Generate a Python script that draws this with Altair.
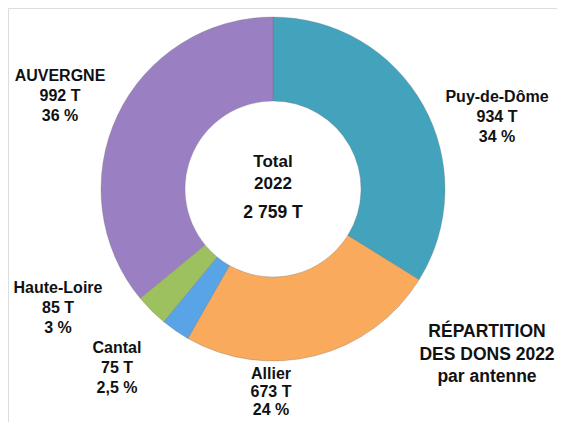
import altair as alt
import pandas as pd

# ---- data ----
antennes = ["Puy-de-Dôme", "Allier", "Cantal", "Haute-Loire", "AUVERGNE"]
tonnes = [934, 673, 75, 85, 992]
pourcent = ["34 %", "24 %", "2,5 %", "3 %", "36 %"]
couleurs = ["#43A3BC", "#F9AA5C", "#58A4E6", "#9CC15E", "#9A80C2"]
total_annee = "2022"
total_txt = "2 759 T"
titre = ["RÉPARTITION", "DES DONS 2022", "par antenne"]

df = pd.DataFrame({"antenne": antennes, "tonnes": tonnes, "ordre": list(range(len(antennes)))})

FONT = "Liberation Sans"
CX, CY = 265, 181

donut = alt.Chart(df).mark_arc(
    radius=172, radius2=88, stroke="#6f6f6f", strokeWidth=0.6, strokeOpacity=0.5
).encode(
    theta=alt.Theta("tonnes:Q", stack=True),
    order=alt.Order("ordre:Q"),
    color=alt.Color("antenne:N", scale=alt.Scale(domain=antennes, range=couleurs), legend=None),
    x=alt.value(CX),
    y=alt.value(CY),
)

def label(txt, x, y, size=16, lh=19.8):
    return alt.Chart(pd.DataFrame({"t": [txt]})).mark_text(
        font=FONT, fontSize=size, fontWeight="bold", color="#111111",
        align="center", baseline="middle", lineBreak="\n", lineHeight=lh,
    ).encode(x=alt.value(x), y=alt.value(y), text="t:N")

# label anchor positions (center x, first-line center y, line height)
anchors = {
    "Puy-de-Dôme": (489, 89, 19.8),
    "Allier": (263, 366, 18.2),
    "Cantal": (109, 340, 19.8),
    "Haute-Loire": (50, 280, 19.8),
    "AUVERGNE": (52, 68, 19.8),
}

layers = [donut]
for name, t, p in zip(antennes, tonnes, pourcent):
    x, y, lh = anchors[name]
    txt = f"{name}\n{t} T\n{p}"
    layers.append(label(txt, x, y, lh=lh))

layers.append(label(f"Total\n{total_annee}", CX, 154, size=17, lh=22))
layers.append(label(total_txt, CX, 205, size=17.5))
layers.append(label("\n".join(titre), 479, 324, size=17.5, lh=22.5))

chart = alt.layer(*layers).properties(
    width=549, height=414, padding=0, autosize=alt.AutoSizeParams(type="none")
).configure_view(stroke=None).configure(background="white")

chart.save("out.html", embed_options={"renderer": "svg", "actions": False})
